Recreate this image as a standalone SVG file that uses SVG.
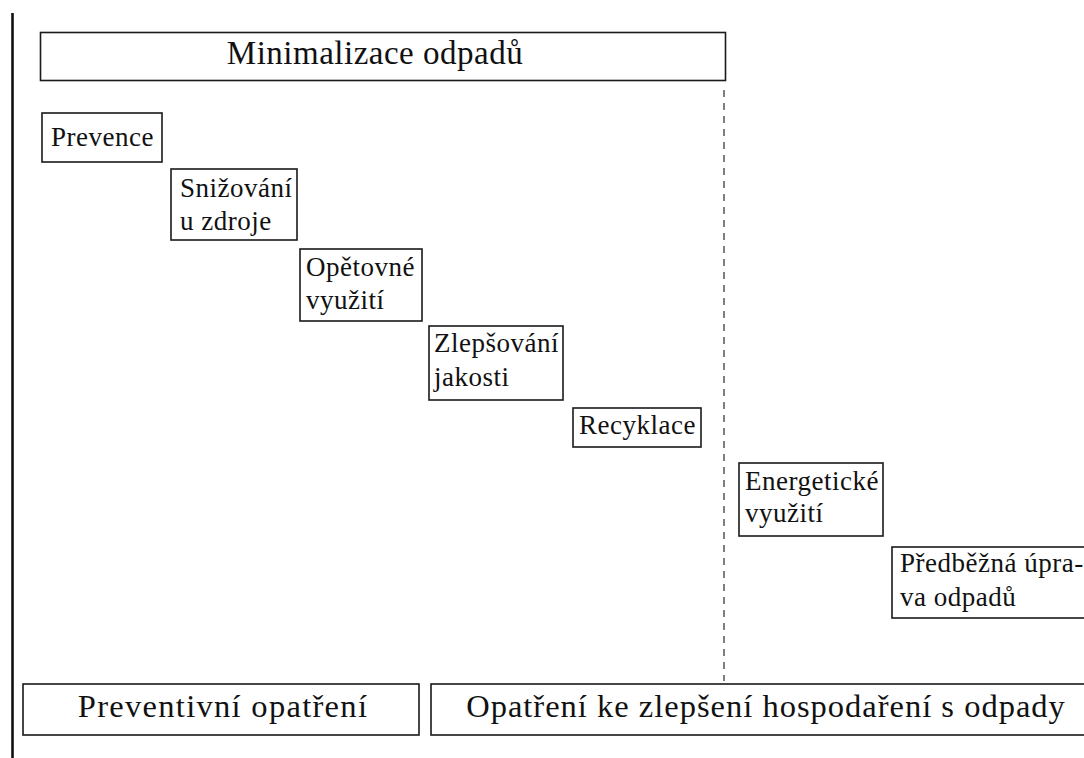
<svg xmlns="http://www.w3.org/2000/svg" width="1084" height="758" viewBox="0 0 1084 758">
<style>
.box{fill:#fff;stroke:#1a1a1a;stroke-width:1.6}
.t{font-family:"Liberation Serif","Times New Roman",serif;fill:#111;font-size:27px;letter-spacing:0.5px}
.big{font-size:33px;letter-spacing:0.5px;text-anchor:middle}
.bot{font-size:32.5px;letter-spacing:1px;text-anchor:middle}
</style>
<rect width="1084" height="758" fill="#fff"/>
<g id="connectors">
<line x1="12.5" y1="13" x2="12.5" y2="758" stroke="#111" stroke-width="2.6"/>
<line x1="724" y1="90" x2="724" y2="681" stroke="#555" stroke-width="1.5" stroke-dasharray="7 6"/>
</g>
<g id="minimalizace"><rect class="box" x="40.5" y="32.5" width="685" height="48"/><text class="t big" x="375" y="64">Minimalizace odpadů</text></g>
<g id="prevence"><rect class="box" x="42" y="113" width="120" height="49"/><text class="t" x="51" y="146">Prevence</text></g>
<g id="snizovani"><rect class="box" x="171" y="169" width="126" height="71"/><text class="t" x="180" y="197">Snižování</text><text class="t" x="180" y="230">u zdroje</text></g>
<g id="opetovne"><rect class="box" x="300" y="249" width="122" height="72"/><text class="t" x="306" y="276">Opětovné</text><text class="t" x="306" y="309">využití</text></g>
<g id="zlepsovani"><rect class="box" x="429" y="326" width="134" height="74"/><text class="t" x="434" y="352">Zlepšování</text><text class="t" x="434" y="386">jakosti</text></g>
<g id="recyklace"><rect class="box" x="573" y="408" width="128" height="39"/><text class="t" x="579" y="434">Recyklace</text></g>
<g id="energeticke"><rect class="box" x="739" y="463" width="144" height="73"/><text class="t" x="745" y="490">Energetické</text><text class="t" x="745" y="522">využití</text></g>
<g id="predbezna"><rect class="box" x="892" y="547" width="200" height="71"/><text class="t" x="900" y="572">Předběžná úpra-</text><text class="t" x="900" y="606">va odpadů</text></g>
<g id="preventivni"><rect class="box" x="23" y="684" width="396" height="51"/><text class="t bot" x="223" y="717" style="letter-spacing:1.3px">Preventivní opatření</text></g>
<g id="opatreni"><rect class="box" x="431" y="684" width="667" height="51" stroke-width="2"/><text class="t bot" x="766" y="717">Opatření ke zlepšení hospodaření s odpady</text></g>
</svg>
